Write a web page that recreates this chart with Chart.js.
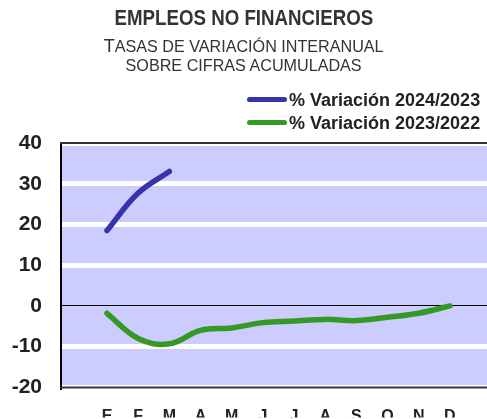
<!DOCTYPE html>
<html><head><meta charset="utf-8">
<script src="https://cdn.jsdelivr.net/npm/chart.js@4"></script>
<style>
html,body{margin:0;padding:0;background:#fff;width:487px;height:419px;overflow:hidden;}
#wrap{position:relative;width:487px;height:419px;}
canvas{position:absolute;left:0;top:0;}
.t{position:absolute;left:0;width:487px;text-align:center;color:#333;font-family:"Liberation Sans",Arial,sans-serif;white-space:nowrap;}
#t1{top:5px;font-size:22px;font-weight:bold;transform:scaleX(0.85);transform-origin:246px 0;}
#t2{top:35px;font-size:17px;transform:scaleX(0.95);transform-origin:246px 0;}
#t3{top:56px;font-size:17px;transform:scaleX(0.95);transform-origin:246px 0;}
.lg{position:absolute;left:247px;font-family:"Liberation Sans",Arial,sans-serif;font-weight:bold;font-size:18px;color:#222;white-space:nowrap;}
.lg i{display:inline-block;width:40px;height:5px;border-radius:3px;vertical-align:middle;margin-right:2px;position:relative;top:-2px;}
</style></head>
<body><div id="wrap">
<canvas id="c" width="487" height="419"></canvas>
<div class="t" id="t1">EMPLEOS NO FINANCIEROS</div>
<div class="t" id="t2"><span style="font-size:19px">T</span>ASAS DE VARIACIÓN INTERANUAL</div>
<div class="t" id="t3">SOBRE CIFRAS ACUMULADAS</div>
<div class="lg" style="top:90px"><i style="background:#3535A8"></i>% Variación 2024/2023</div>
<div class="lg" style="top:113px"><i style="background:#359A25"></i>% Variación 2023/2022</div>
</div>
<script>
const months = ['E','F','M','A','M','J','J','A','S','O','N','D'];
const yTicks = [-20,-10,0,10,20,30,40];
const series2024 = [18.5, 27.7, 33];
const series2023 = [-1.8, -8.0, -9.3, -6.0, -5.4, -4.1, -3.7, -3.3, -3.6, -2.8, -1.8, 0];
const seriesNames = ['% Variación 2024/2023','% Variación 2023/2022'];

const toXY = arr => arr.map((v,i)=>({x:i,y:v}));

const bgPlugin = {
  id:'bg',
  beforeDraw(chart){
    const {ctx, chartArea:a} = chart;
    ctx.save();
    ctx.fillStyle = '#CCCCFF';
    ctx.fillRect(a.left, a.top, a.right-a.left, a.bottom-a.top);
    ctx.restore();
  },
  afterDraw(chart){
    const {ctx, chartArea:a} = chart;
    ctx.save();
    ctx.strokeStyle = '#333';
    ctx.lineWidth = 2;
    ctx.beginPath();
    ctx.moveTo(a.left-1, a.top); ctx.lineTo(a.right, a.top);
    ctx.moveTo(a.left-1, a.bottom); ctx.lineTo(a.right, a.bottom);
    ctx.stroke();
    ctx.restore();
  }
};

new Chart(document.getElementById('c'), {
  type:'line',
  data:{
    datasets:[
      {label:seriesNames[0], data:toXY(series2024), borderColor:'#3535A8', borderWidth:5.5, pointRadius:0, tension:0.4, borderCapStyle:'round'},
      {label:seriesNames[1], data:toXY(series2023), borderColor:'#359A25', borderWidth:5.5, pointRadius:0, tension:0.4, borderCapStyle:'round'}
    ]
  },
  options:{
    responsive:false, animation:false,
    layout:{padding:{top:143,left:0,right:0,bottom:0}},
    plugins:{legend:{display:false}, title:{display:false}, tooltip:{enabled:false}},
    scales:{
      x:{
        type:'linear', min:-1.475, max:12.19,
        afterBuildTicks(s){ s.ticks = months.map((m,i)=>({value:i})); },
        afterFit(s){ s.height = 30; },
        grid:{display:false, drawTicks:false},
        border:{display:false},
        ticks:{callback:(v)=>months[v] ?? '', autoSkip:false, maxRotation:0, padding:20, color:'#222', font:{family:'Liberation Sans, Arial, sans-serif', weight:'bold', size:16}}
      },
      y:{
        min:-20, max:40,
        afterBuildTicks(s){ s.ticks = yTicks.map(v=>({value:v})); },
        afterFit(s){ s.width = 61; },
        grid:{
          drawTicks:false,
          color:(c)=> c.tick && c.tick.value===0 ? '#000' : '#fff',
          lineWidth:(c)=> c.tick && c.tick.value===0 ? 1 : 5
        },
        border:{display:true, color:'#000', width:2},
        ticks:{padding:19, color:'#222', font:{family:'Liberation Sans, Arial, sans-serif', weight:'bold', size:21}}
      }
    }
  },
  plugins:[bgPlugin]
});
</script>
</body></html>
